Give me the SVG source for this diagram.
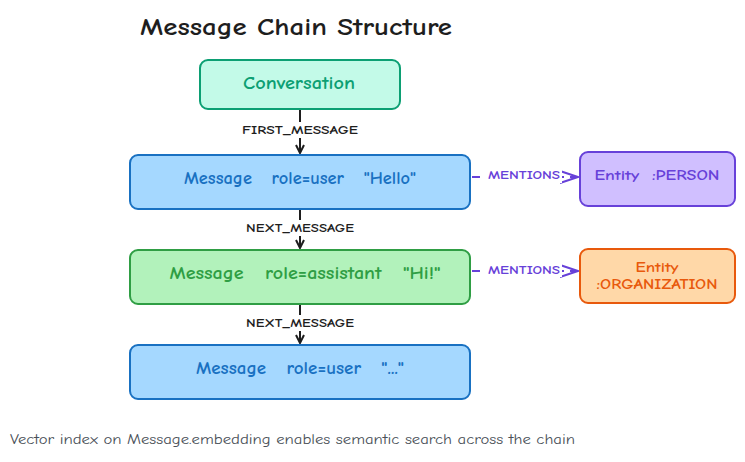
<svg xmlns="http://www.w3.org/2000/svg" width="745" height="462" viewBox="0 0 745 462">
<style>
text{font-family:"Comic Neue","Liberation Sans",sans-serif;text-anchor:middle;dominant-baseline:central;font-weight:bold}
.n{stroke-width:2}
.t{font-size:17px}
.l{font-size:12px;fill:#1e1e1e}
.m{font-size:12px;fill:#6741d9}
</style>
<defs>
<marker id="a" viewBox="0 0 10 10" refX="9" refY="5" markerWidth="10" markerHeight="10" markerUnits="userSpaceOnUse" orient="auto"><path d="M1 1L9 5L1 9" fill="none" stroke="#1e1e1e" stroke-width="2"/></marker>
<marker id="p" viewBox="0 0 20 14" refX="19" refY="7" markerWidth="20" markerHeight="14" markerUnits="userSpaceOnUse" orient="auto"><path d="M1 1L19 7L1 13" fill="none" stroke="#6741d9" stroke-width="2"/></marker>
</defs>
<rect width="745" height="462" fill="#fff"/>
<text x="296" y="26" textLength="312" lengthAdjust="spacingAndGlyphs" style="font-size:25px;fill:#1e1e1e">Message Chain Structure</text>
<g id="edges">
<line x1="300" y1="110" x2="300" y2="153" stroke="#1e1e1e" stroke-width="2" marker-end="url(#a)"/>
<rect x="240" y="122" width="120" height="16" fill="#fff"/>
<text class="l" x="300" y="130" textLength="116" lengthAdjust="spacingAndGlyphs">FIRST_MESSAGE</text>
<line x1="300" y1="210" x2="300" y2="248" stroke="#1e1e1e" stroke-width="2" marker-end="url(#a)"/>
<rect x="244" y="220" width="112" height="16" fill="#fff"/>
<text class="l" x="300" y="228" textLength="108" lengthAdjust="spacingAndGlyphs">NEXT_MESSAGE</text>
<line x1="300" y1="305" x2="300" y2="343" stroke="#1e1e1e" stroke-width="2" marker-end="url(#a)"/>
<rect x="244" y="315" width="112" height="16" fill="#fff"/>
<text class="l" x="300" y="323" textLength="108" lengthAdjust="spacingAndGlyphs">NEXT_MESSAGE</text>
<line x1="472" y1="177" x2="578" y2="177" stroke="#6741d9" stroke-width="2" stroke-dasharray="8 6" marker-end="url(#p)"/>
<rect x="486" y="169" width="76" height="14" fill="#fff"/>
<text class="m" x="524" y="175" textLength="72" lengthAdjust="spacingAndGlyphs">MENTIONS</text>
<line x1="472" y1="271" x2="578" y2="271" stroke="#6741d9" stroke-width="2" stroke-dasharray="8 6" marker-end="url(#p)"/>
<rect x="486" y="263" width="76" height="14" fill="#fff"/>
<text class="m" x="524" y="270" textLength="72" lengthAdjust="spacingAndGlyphs">MENTIONS</text>
</g>
<g id="conv"><rect class="n" x="200" y="60" width="200" height="49" rx="8" fill="#c3fae8" stroke="#0c9f73"/><text class="t" x="299" y="83" fill="#0c9f73" textLength="112" lengthAdjust="spacingAndGlyphs">Conversation</text></g>
<g id="msg1"><rect class="n" x="130" y="155" width="340" height="54" rx="8" fill="#a5d8ff" stroke="#1971c2"/><text class="t" x="300" y="178" fill="#1971c2" xml:space="preserve" textLength="232" lengthAdjust="spacingAndGlyphs">Message   role=user   "Hello"</text></g>
<g id="msg2"><rect class="n" x="130" y="250" width="340" height="54" rx="8" fill="#b2f2bb" stroke="#2f9e44"/><text class="t" x="305" y="273" fill="#2f9e44" xml:space="preserve" textLength="271" lengthAdjust="spacingAndGlyphs">Message   role=assistant   "Hi!"</text></g>
<g id="msg3"><rect class="n" x="130" y="345" width="340" height="54" rx="8" fill="#a5d8ff" stroke="#1971c2"/><text class="t" x="300" y="368" fill="#1971c2" xml:space="preserve" textLength="208" lengthAdjust="spacingAndGlyphs">Message   role=user   "..."</text></g>
<g id="ent1"><rect class="n" x="580" y="152" width="155" height="54" rx="8" fill="#d0bfff" stroke="#6741d9"/><text x="657" y="175" style="font-size:14px" fill="#6741d9" xml:space="preserve" textLength="125" lengthAdjust="spacingAndGlyphs">Entity  :PERSON</text></g>
<g id="ent2"><rect class="n" x="580" y="249" width="155" height="54" rx="8" fill="#ffd8a8" stroke="#e8590c"/><text x="657" y="267" style="font-size:14px" fill="#e8590c" textLength="43" lengthAdjust="spacingAndGlyphs">Entity</text><text x="657" y="284" style="font-size:14px" fill="#e8590c" textLength="121" lengthAdjust="spacingAndGlyphs">:ORGANIZATION</text></g>
<text x="10" y="439" textLength="565" lengthAdjust="spacingAndGlyphs" style="font-size:14px;font-weight:normal;text-anchor:start;fill:#495057">Vector index on Message.embedding enables semantic search across the chain</text>
</svg>
